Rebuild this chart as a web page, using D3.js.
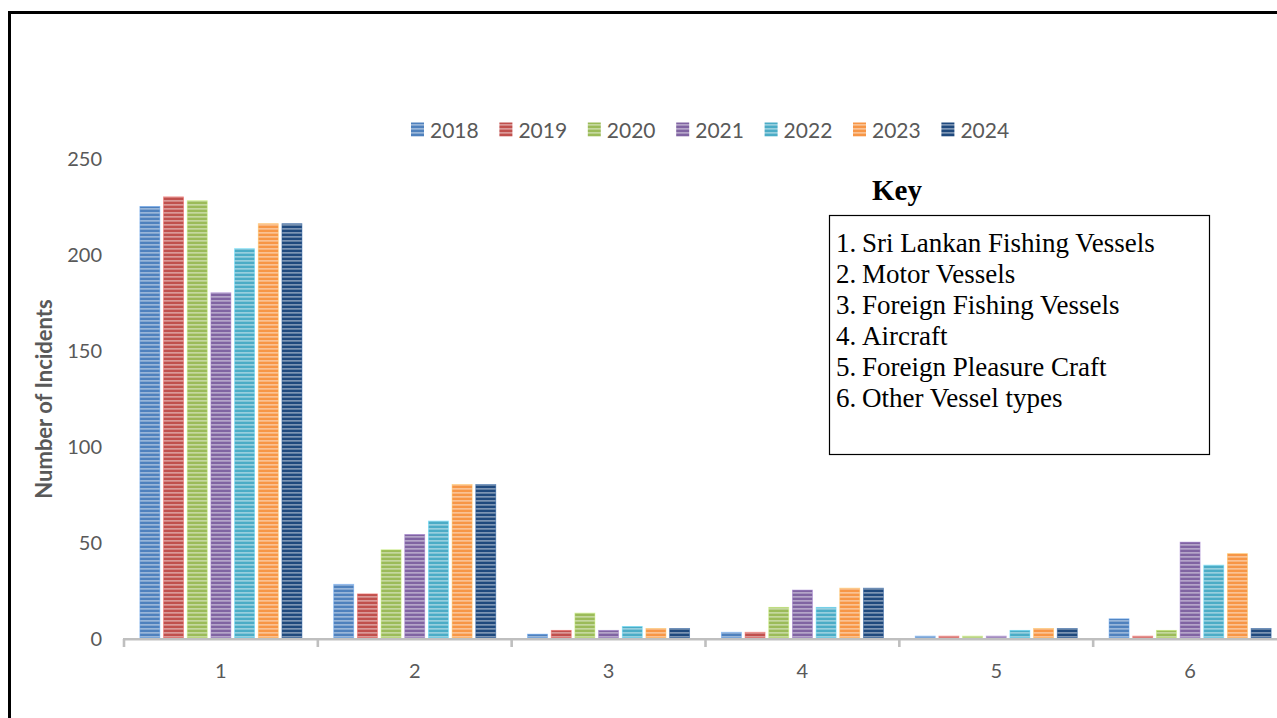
<!DOCTYPE html>
<html>
<head>
<meta charset="utf-8">
<script src="https://cdn.jsdelivr.net/npm/d3@7"></script>
<style>
  html, body { margin: 0; padding: 0; background: #ffffff; }
  svg { display: block; }
</style>
</head>
<body>
<svg id="chart" width="1277" height="718"></svg>
<script>
// ---- Data ----
const categories = ["1", "2", "3", "4", "5", "6"];
const years = ["2018", "2019", "2020", "2021", "2022", "2023", "2024"];
const v2018 = [225, 28, 2, 3, 1, 10];
const v2019 = [230, 23, 4, 3, 1, 1];
const v2020 = [228, 46, 13, 16, 1, 4];
const v2021 = [180, 54, 4, 25, 1, 50];
const v2022 = [203, 61, 6, 16, 4, 38];
const v2023 = [216, 80, 5, 26, 5, 44];
const v2024 = [216, 80, 5, 26, 5, 5];
const yTicks = [0, 50, 100, 150, 200, 250];
const keyTitle = "Key";
const keyItems = ["Sri Lankan Fishing Vessels", "Motor Vessels", "Foreign Fishing Vessels",
                  "Aircraft", "Foreign Pleasure Craft", "Other Vessel types"];
const yLabel = "Number of Incidents";
const colors = ["#4f81bd", "#c0504d", "#9bbb59", "#8064a2", "#4bacc6", "#f79646", "#1f497d"];

const seriesValues = [v2018, v2019, v2020, v2021, v2022, v2023, v2024];
const series = years.map((y, i) => ({ year: y, color: colors[i], values: seriesValues[i] }));

// ---- Layout ----
const svg = d3.select("#chart");
const plot = { left: 124, right: 1287, top: 158.5, bottom: 638 };
const grey = "#595959";
const axisGrey = "#bfbfbf";
const sansFont = "Lato, 'Open Sans', sans-serif";
const serifFont = "'Liberation Serif', 'DejaVu Serif', serif";

// outer frame
svg.append("rect")
  .attr("x", 9.5).attr("y", 12.5)
  .attr("width", 1400).attr("height", 900)
  .attr("fill", "none").attr("stroke", "#000").attr("stroke-width", 3);

// patterns
const defs = svg.append("defs");
series.forEach((s, i) => {
  const p = defs.append("pattern")
    .attr("id", "pat" + i)
    .attr("patternUnits", "userSpaceOnUse")
    .attr("width", 8).attr("height", 4);
  p.append("rect").attr("width", 8).attr("height", 4).attr("fill", s.color);
  p.append("rect").attr("y", 0).attr("width", 8).attr("height", 1.7)
    .attr("fill", "#ffffff").attr("fill-opacity", 0.42);
});

// scales
const x0 = d3.scaleBand().domain(categories).range([plot.left, plot.right]).paddingInner(0).paddingOuter(0);
const x1 = d3.scaleBand().domain(years).range([0, x0.bandwidth()]).paddingInner(0.155).paddingOuter(0.671);
const y = d3.scaleLinear().domain([0, 250]).range([plot.bottom, plot.top]);

// bars
const groups = svg.append("g").selectAll("g")
  .data(categories)
  .join("g")
  .attr("transform", d => `translate(${x0(d)},0)`);

groups.selectAll("rect")
  .data((c, ci) => series.map((s, si) => ({ year: s.year, value: s.values[ci], si })))
  .join("rect")
  .attr("x", d => x1(d.year))
  .attr("y", d => y(d.value))
  .attr("width", x1.bandwidth())
  .attr("height", d => y(0) - y(d.value))
  .attr("fill", d => `url(#pat${d.si})`)
  .attr("stroke", d => d3.color(colors[d.si]).brighter(0.7))
  .attr("stroke-opacity", 0.6)
  .attr("stroke-width", 0.8);

// x axis
const xAxisG = svg.append("g");
xAxisG.append("line")
  .attr("x1", plot.left - 1).attr("x2", plot.right + 2)
  .attr("y1", plot.bottom + 1.3).attr("y2", plot.bottom + 1.3)
  .attr("stroke", axisGrey).attr("stroke-width", 2.6);
const boundaries = categories.map(c => x0(c)).concat([plot.right]);
xAxisG.selectAll("line.tick")
  .data(boundaries)
  .join("line")
  .attr("class", "tick")
  .attr("x1", d => d).attr("x2", d => d)
  .attr("y1", plot.bottom + 1).attr("y2", plot.bottom + 9)
  .attr("stroke", axisGrey).attr("stroke-width", 2.6);
xAxisG.selectAll("text")
  .data(categories)
  .join("text")
  .attr("x", d => x0(d) + x0.bandwidth() / 2)
  .attr("y", 678)
  .attr("text-anchor", "middle")
  .attr("font-family", sansFont)
  .attr("font-size", 20)
  .attr("fill", grey)
  .text(d => d);

// y axis labels (no line)
const yAxis = d3.axisLeft(y).tickValues(yTicks).tickSize(0).tickPadding(0);
const yAxisG = svg.append("g").attr("transform", "translate(102,0)").call(yAxis);
yAxisG.select(".domain").remove();
yAxisG.selectAll("text")
  .attr("font-family", sansFont)
  .attr("font-size", 20)
  .attr("fill", grey)
  .attr("dy", "0.35em");

// y label
svg.append("text")
  .attr("transform", "translate(52,399) rotate(-90)")
  .attr("text-anchor", "middle")
  .attr("font-family", sansFont)
  .attr("font-weight", "bold")
  .attr("font-size", 22)
  .attr("fill", grey)
  .text(yLabel);

// legend
const legend = svg.append("g");
const legItems = legend.selectAll("g")
  .data(series)
  .join("g")
  .attr("transform", (d, i) => `translate(${411 + i * 88.4},0)`);
legItems.append("rect")
  .attr("x", 0).attr("y", 122.5)
  .attr("width", 13).attr("height", 14)
  .attr("fill", (d, i) => `url(#pat${i})`);
legItems.append("text")
  .attr("x", 19).attr("y", 137.5)
  .attr("font-family", sansFont)
  .attr("font-size", 21)
  .attr("fill", grey)
  .text(d => d.year);

// key
svg.append("text")
  .attr("x", 897).attr("y", 200)
  .attr("text-anchor", "middle")
  .attr("font-family", serifFont)
  .attr("font-weight", "bold")
  .attr("font-size", 29)
  .attr("fill", "#000")
  .text(keyTitle);
svg.append("rect")
  .attr("x", 829.5).attr("y", 215.5)
  .attr("width", 380).attr("height", 239)
  .attr("fill", "none").attr("stroke", "#000").attr("stroke-width", 1.2);
const keyG = svg.append("g");
keyItems.forEach((t, i) => {
  const by = 252 + i * 31;
  keyG.append("text")
    .attr("x", 836).attr("y", by)
    .attr("font-family", serifFont).attr("font-size", 27).attr("fill", "#000")
    .text((i + 1) + ".");
  keyG.append("text")
    .attr("x", 862).attr("y", by)
    .attr("font-family", serifFont).attr("font-size", 27).attr("fill", "#000")
    .text(t);
});
</script>
</body>
</html>
